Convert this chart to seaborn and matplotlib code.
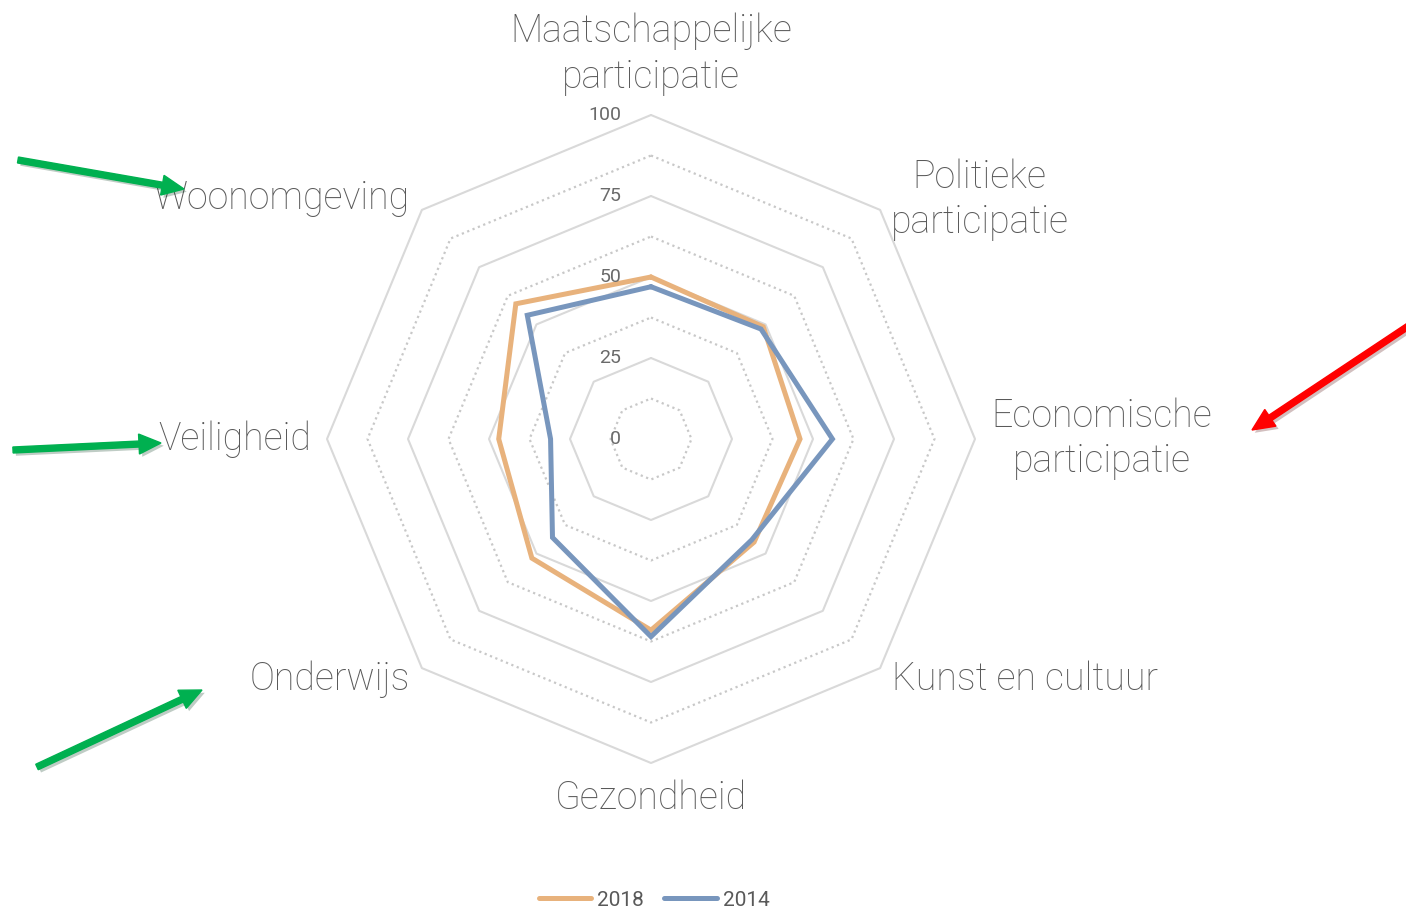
import numpy as np
import pandas as pd
import matplotlib
matplotlib.use("Agg")
import matplotlib.pyplot as plt
import matplotlib.patheffects as pe
from matplotlib.patches import FancyArrow
from matplotlib.transforms import IdentityTransform
from matplotlib.lines import Line2D
import seaborn as sns

# ---------------- data ----------------
categories = ["Maatschappelijke\nparticipatie", "Politieke\nparticipatie",
              "Economische\nparticipatie", "Kunst en cultuur", "Gezondheid",
              "Onderwijs", "Veiligheid", "Woonomgeving"]
values_2018 = [50, 49, 46, 45, 59, 52, 47, 59]
values_2014 = [47, 48, 56, 44, 61, 43, 31, 54]
series_names = ["2018", "2014"]
tick_values = [0, 25, 50, 75, 100]

# ---------------- style ----------------
sns.set_style("white")
plt.rcParams["font.family"] = ["Roboto", "DejaVu Sans"]
TXT = "#595959"
COL = {"2018": "#E8B27C", "2014": "#7896BD"}

fig = plt.figure(figsize=(14.06, 9.10), dpi=100)
W, H = 1406, 910
cx, cy, R = 651, 439, 324
ax = fig.add_axes([(cx - R) / W, (H - cy - R) / H, 2 * R / W, 2 * R / H], projection="polar")
ax.set_theta_zero_location("N")
ax.set_theta_direction(-1)
ax.set_ylim(0, 100)
ax.set_xticks([])
ax.set_yticks([])
ax.grid(False)
ax.spines["polar"].set_visible(False)
ax.patch.set_alpha(0)

n = len(categories)
angles = np.linspace(0, 2 * np.pi, n, endpoint=False)
closed = np.append(angles, angles[0] + 2 * np.pi)

# grid octagons
for lvl in np.arange(12.5, 100.01, 12.5):
    major = abs(lvl % 25) < 1e-9
    ax.plot(closed, [lvl] * (n + 1),
            color="#D9D9D9" if major else "#C8C8C8",
            lw=1.5 if major else 1.6,
            ls="-" if major else (0, (1, 1.6)),
            clip_on=False, zorder=1)

# data via seaborn
rows = []
for name, vals in zip(series_names, [values_2018, values_2014]):
    vv = list(vals) + [vals[0]]
    for t, v in zip(closed, vv):
        rows.append({"theta": t, "value": v, "jaar": name})
df = pd.DataFrame(rows)
sns.lineplot(data=df, x="theta", y="value", hue="jaar", hue_order=series_names,
             palette=COL, sort=False, estimator=None, units="jaar",
             linewidth=3.6, ax=ax, legend=False, zorder=3)
ax.set_xlabel("")
ax.set_ylabel("")
for ln in ax.get_lines()[-2:]:
    ln.set_solid_joinstyle("miter")
    ln.set_clip_on(False)

# tick labels
for v in tick_values:
    ax.annotate(str(v), xy=(0, v), xytext=(-30, 0), textcoords="offset pixels",
                ha="right", va="center", fontsize=14, color="#6A6A6A", fontweight="normal")

# category labels
lab_r = [118.8, 104.5, 105, 105, 111, 105, 105, 105]
lab_ha = ["center", "left", "left", "left", "center", "right", "right", "right"]
for t, lab, r, ha in zip(angles, categories, lab_r, lab_ha):
    ax.text(t, r, lab, ha=ha, va="center", multialignment="center",
            fontsize=27, color=TXT, fontweight="light", linespacing=1.27)

# legend
handles = [Line2D([], [], color=COL[s], lw=3.6, solid_capstyle="round") for s in series_names]
leg = fig.legend(handles, series_names, loc="center", bbox_to_anchor=(654 / W, 1 - 900 / H),
                 ncol=2, frameon=False, fontsize=15, handlelength=2.5, handletextpad=0.3,
                 columnspacing=1.0, labelcolor=TXT)

# arrows (image pixel coords -> display)
def arrow(x0, y0, x1, y1, color):
    a = FancyArrow(x0, H - y0, x1 - x0, -(y1 - y0), width=6, head_width=20,
                   head_length=22, length_includes_head=True, color=color,
                   transform=IdentityTransform(),
                   path_effects=[pe.SimplePatchShadow(offset=(2, -2), alpha=0.25), pe.Normal()])
    fig.add_artist(a)

arrow(18, 160, 184, 189, "#00B050")
arrow(13, 450, 161, 443, "#00B050")
arrow(37, 767, 202, 690, "#00B050")
arrow(1440, 305, 1252, 430, "#FF0000")

fig.savefig("out.png", dpi=100)
